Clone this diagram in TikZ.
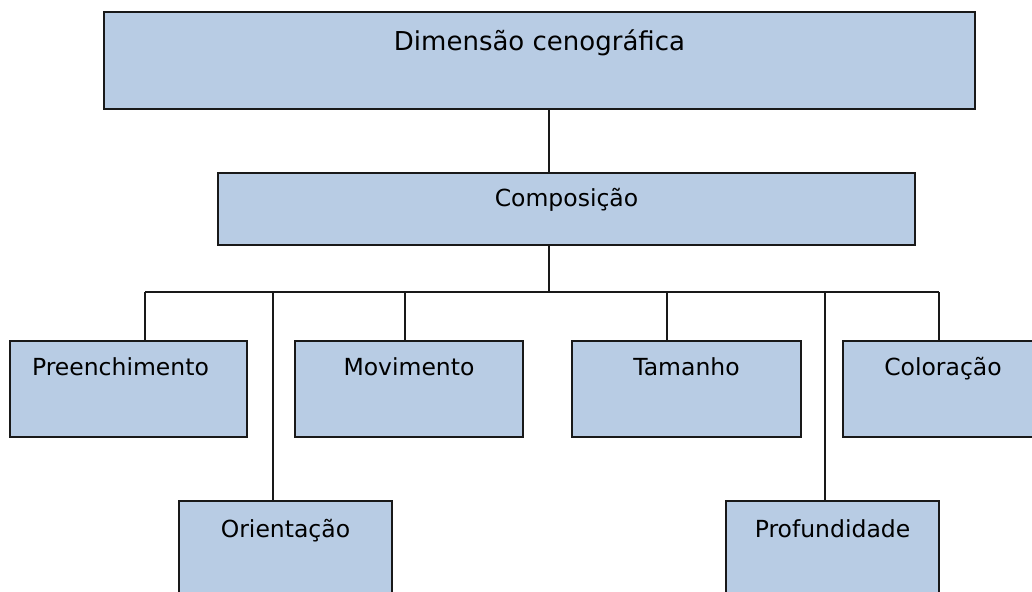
\documentclass[tikz,border=0pt]{standalone}
\usepackage{fontspec}
\setmainfont{DejaVu Sans}
\usetikzlibrary{positioning, calc}
\definecolor{boxblue}{RGB}{184,204,228}

\begin{document}
\begin{tikzpicture}[x=1pt, y=-1pt,
		box/.style={draw=black!90, fill=boxblue, line width=1.7pt, anchor=north, inner xsep=0pt, inner ysep=0pt, font=\fontsize{23.5}{28}\selectfont, text height=35pt, text depth=61pt},
		link/.style={draw=black!90, line width=1.6pt}]
		\useasboundingbox (0, 0) rectangle (1032, 591);
		\node[box, minimum width=871pt, text height=39pt, text depth=58pt, font=\fontsize{26}{31}\selectfont] (dim) at (539.5, 11) {Dimensão cenográfica};
		\node[box, minimum width=697pt, text height=34pt, text depth=38pt] (comp) at (566.5, 172) {Composição};
		\node[box, inner xsep=22pt, text width=193pt, align=left] (pre) at (128.5, 340) {Preenchimento};
		\node[box, minimum width=228pt] (mov) at (409, 340) {Movimento};
		\node[box, minimum width=229pt] (tam) at (686.5, 340) {Tamanho};
		\node[box, minimum width=200pt] (col) at (943, 340) {Coloração};
		\node[box, minimum width=213pt, text height=37pt, text depth=60pt] (ori) at (285.5, 500) {Orientação};
		\node[box, minimum width=213pt, text height=37pt, text depth=60pt] (prof) at (832.5, 500) {Profundidade};
		\coordinate (trunk) at (549, 292);
		\coordinate (barL) at (145, 292);
		\coordinate (barR) at (939, 292);
		\draw[link] (dim.south -| trunk) -- (comp.north -| trunk);
		\draw[link] (comp.south -| trunk) -- (trunk);
		\draw[link] (barL) -- (barR);
		\foreach \x/\n in {145/pre, 273/ori, 405/mov, 667/tam, 825/prof, 939/col} {
			\coordinate (drop) at (\x, 292);
			\draw[link] (drop) -- (drop |- \n.north);
		}
	\end{tikzpicture}
\end{document}
